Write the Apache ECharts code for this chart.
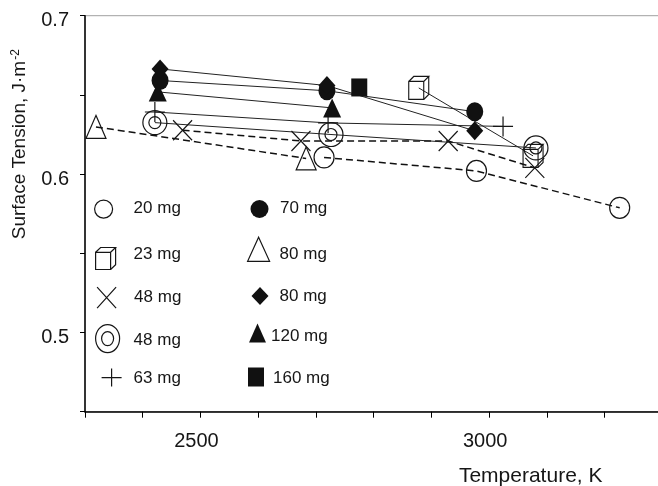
<!DOCTYPE html>
<html>
<head>
<meta charset="utf-8">
<script src="https://cdn.jsdelivr.net/npm/echarts@6/dist/echarts.min.js"></script>
<style>
html,body{margin:0;padding:0;background:#fff;}
#chart{width:658px;height:486px;}
</style>
</head>
<body>
<div id="chart"></div>
<script>
// Data: temperature (K) and surface tension (J·m^-2)
const legendLabels = ['20 mg','23 mg','48 mg','48 mg','63 mg','70 mg','80 mg','80 mg','120 mg','160 mg'];
const temp20 = [2714, 2978, 3226];        const sig20 = [0.6105, 0.602, 0.5787];
const temp23 = [2878, 3076];              const sig23 = [0.6544, 0.6115];
const temp48x = [2469, 2674, 2929, 3079]; const sig48x = [0.6277, 0.6209, 0.6209, 0.6039];
const temp48c = [2421, 2726, 3081];       const sig48c = [0.6325, 0.625, 0.6165];
const temp63 = [2421, 2721, 3024];        const sig63 = [0.6392, 0.6323, 0.6301];
const temp70 = [2430, 2719, 2975];        const sig70 = [0.6591, 0.6526, 0.6394];
const temp80t = [2319, 2683];             const sig80t = [0.6298, 0.6099];
const temp80d = [2430, 2719, 2975];       const sig80d = [0.6664, 0.6559, 0.6273];
const temp120 = [2426, 2728];             const sig120 = [0.6519, 0.6418];
const temp160 = [2775];                   const sig160 = [0.6547];
const xLabelTicks = [2500, 3000];
const yLabelTicks = [0.5, 0.6, 0.7];

const pairs = (xs, ys) => xs.map((x, i) => [x, ys[i]]);
const FONT = 'Liberation Sans, Arial, sans-serif';
const INK = '#161616';

const SYM = {
  cube: 'path://M0,5 L15,5 L15,23 L0,23 Z M0,5 L5,0 L20,0 L15,5 M20,0 L20,18 L15,23',
  cross: 'path://M0,0 L20,20 M20,0 L0,20',
  plus: 'path://M0,10 L20,10 M10,0 L10,20',
  dcircle: 'path://M24,12 C24,18.63 18.63,24 12,24 C5.37,24 0,18.63 0,12 C0,5.37 5.37,0 12,0 C18.63,0 24,5.37 24,12 Z M18,12 C18,15.31 15.31,18 12,18 C8.69,18 6,15.31 6,12 C6,8.69 8.69,6 12,6 C15.31,6 18,8.69 18,12 Z'
};
const hollow = {color: 'rgba(0,0,0,0)', borderColor: INK, borderWidth: 1.2};
const filled = {color: '#111', borderWidth: 0};
const solid = {color: '#222', width: 1};
const dashed = {color: '#111', width: 1.5, type: [7, 4]};

const seriesDefs = [
  {name: 's20', data: pairs(temp20, sig20), symbol: 'circle', size: [20, 21], item: hollow, line: dashed},
  {name: 's23', data: pairs(temp23, sig23), symbol: SYM.cube, size: [20, 23], item: hollow, line: solid},
  {name: 's48x', data: pairs(temp48x, sig48x), symbol: SYM.cross, size: [19, 20], item: hollow, line: dashed},
  {name: 's48c', data: pairs(temp48c, sig48c), symbol: SYM.dcircle, size: [24, 24], item: hollow, line: solid},
  {name: 's63', data: pairs(temp63, sig63), symbol: SYM.plus, size: [20, 20], item: hollow, line: solid},
  {name: 's70', data: pairs(temp70, sig70), symbol: 'circle', size: [17, 19], item: filled, line: solid},
  {name: 's80t', data: pairs(temp80t, sig80t), symbol: 'triangle', size: [20, 23], item: hollow, line: dashed},
  {name: 's80d', data: pairs(temp80d, sig80d), symbol: 'diamond', size: [17, 19], item: filled, line: solid},
  {name: 's120', data: pairs(temp120, sig120), symbol: 'triangle', size: [18, 19], item: filled, line: solid},
  {name: 's160', data: pairs(temp160, sig160), symbol: 'rect', size: [16, 18], item: filled, line: solid}
];

// legend layout: [left, top, itemWidth, itemHeight, textPadLeft, textShiftY]
const legendPos = [
  [94, 199.5, 18, 21, 16, -1],
  [95, 246, 20, 22, 13, -4],
  [96.5, 286.5, 19, 21, 13, 0],
  [95, 324, 24, 28, 9, 2],
  [101, 368, 20, 18, 7, 1],
  [250.5, 199.5, 18, 21, 6.5, -1],
  [247, 236.7, 22, 24, 5, 5],
  [251.5, 287, 17, 18, 6, 0],
  [249, 323.5, 17, 19, 0, 3.5],
  [248, 367.5, 16, 19, 4, 1]
];

const legends = seriesDefs.map((s, i) => {
  const p = legendPos[i];
  const shift = p[5];
  return {
    left: p[0], top: p[1], itemWidth: p[2], itemHeight: p[3], padding: 0,
    orient: 'vertical', selectedMode: false, symbolKeepAspect: false,
    formatter: '{t|' + legendLabels[i] + '}',
    textStyle: {fontFamily: FONT, fontSize: 17, color: INK,
      rich: {t: {fontFamily: FONT, fontSize: 17, color: INK,
        padding: [shift > 0 ? 2 * shift : 0, 0, shift < 0 ? -2 * shift : 0, p[4]]}}},
    data: [{name: s.name, icon: s.symbol, itemStyle: Object.assign({}, s.item)}]
  };
});

const series = seriesDefs.map(s => ({
  name: s.name, type: 'line', data: s.data,
  symbol: s.symbol, symbolSize: s.size, showAllSymbol: true,
  itemStyle: s.item, lineStyle: s.line,
  emphasis: {disabled: true}, animation: false, silent: true
}));

const chart = echarts.init(document.getElementById('chart'));
chart.setOption({
  animation: false,
  grid: {left: 85, top: 15.7, right: -4.4, bottom: 74.3, show: true,
         outerBoundsMode: 'none', containLabel: false,
         borderColor: '#a0a0a0', borderWidth: 1, backgroundColor: 'rgba(0,0,0,0)'},
  legend: legends,
  xAxis: {
    type: 'value', min: 2300, max: 3300, interval: 100,
    axisLine: {show: true, lineStyle: {color: '#000', width: 1.5}},
    axisTick: {show: true, length: 6, lineStyle: {color: '#000', width: 1}},
    splitLine: {show: false},
    axisLabel: {fontFamily: FONT, fontSize: 20, color: INK, margin: 20,
      formatter: v => xLabelTicks.includes(v) ? '{v|' + v + '}' : '',
      rich: {v: {fontFamily: FONT, fontSize: 20, color: INK, padding: [0, 8, 0, 0]}}},
    name: 'Temperature, K', nameLocation: 'middle', nameGap: 54,
    nameTextStyle: {fontFamily: FONT, fontSize: 21, color: INK, padding: [0, 0, 0, 314]}
  },
  yAxis: {
    type: 'value', min: 0.45, max: 0.7, interval: 0.05,
    axisLine: {show: true, lineStyle: {color: '#000', width: 1.5}},
    axisTick: {show: true, length: 5, lineStyle: {color: '#000', width: 1}},
    splitLine: {show: false},
    axisLabel: {fontFamily: FONT, fontSize: 20, color: INK, margin: 16,
      formatter: v => {
        const hit = yLabelTicks.find(t => Math.abs(t - v) < 1e-9);
        return hit !== undefined ? '{v|' + hit.toFixed(1) + '}' : '';
      },
      rich: {v: {fontFamily: FONT, fontSize: 20, color: INK, padding: [10, 0, 0, 0]}}},
    name: 'Surface Tension, J·m{sup|-2}', nameLocation: 'middle', nameGap: 56,
    nameTextStyle: {fontFamily: FONT, fontSize: 19, color: INK, padding: [0, 0, 0, 139],
      rich: {sup: {fontFamily: FONT, fontSize: 12, color: INK, verticalAlign: 'top', padding: [0, 0, 0, 1]}}}
  },
  series: series
});
</script>
</body>
</html>
